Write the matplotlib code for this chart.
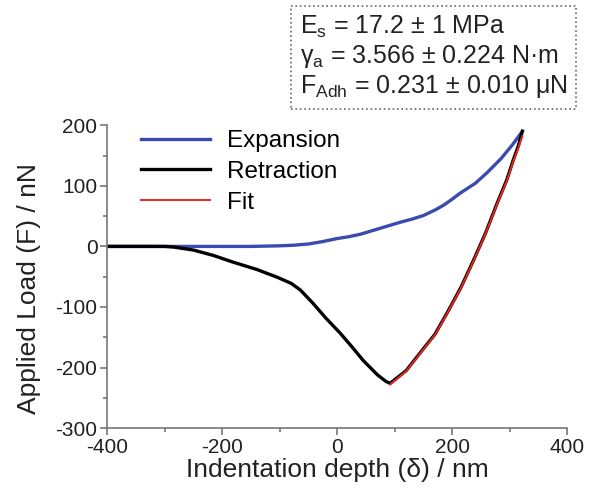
import matplotlib
matplotlib.use("Agg")
import matplotlib.pyplot as plt

plt.rcParams['font.family'] = ['Liberation Sans', 'DejaVu Sans']
plt.rcParams['mathtext.fontset'] = 'custom'
plt.rcParams['mathtext.rm'] = 'Liberation Sans'
plt.rcParams['mathtext.it'] = 'Liberation Sans'
plt.rcParams['axes.unicode_minus'] = False

# expansion (approach) curve
exp_x = [-400, -350, -300, -250, -200, -150, -100, -75, -50, -25, 0, 20, 40, 75, 110, 130, 150,
         170, 185, 200, 214, 240, 261, 285, 305, 322]
exp_y = [0, 0, 0, 0, 0, 0, 1, 2, 4, 8, 13, 16, 20, 30, 40, 45, 51, 60, 68, 78, 88, 104, 122,
         145, 168, 190]

# retraction curve
ret_x = [-400, -350, -300, -285, -250, -215, -181, -140, -104, -80, -64, -42, -20, 5, 25, 45,
         70, 85, 92, 120, 144, 170, 191, 215, 237, 258, 278, 295, 306, 315, 322]
ret_y = [0, 0, 0, -1, -6, -15, -26, -38, -51, -61, -72, -94, -118, -143, -165, -188, -212,
         -223, -226, -205, -176, -145, -110, -68, -23, 22, 71, 110, 142, 166, 190]

# fit on the retraction branch
fit_x = [92, 120, 144, 170, 191, 215, 237, 258, 278, 295, 306, 315, 322]
fit_y = [-228, -206, -177, -146, -111, -69, -24, 21, 70, 108, 140, 162, 182]

fig = plt.figure(figsize=(5.89, 4.95), dpi=100)
ax = fig.add_axes([0.182, 0.135, 0.781, 0.612])

ax.plot(exp_x, exp_y, color='#3a4bb0', lw=2.4, label='Expansion')
ax.plot(ret_x, ret_y, color='black', lw=2.4, label='Retraction')
ax.plot(fit_x, fit_y, color='#e8281e', lw=1.4, label='Fit')

ax.set_xlim(-400, 400)
ax.set_ylim(-300, 200)
ax.set_xticks([-400, -200, 0, 200, 400])
ax.set_xticks([-300, -100, 100, 300], minor=True)
ax.set_yticks([-300, -200, -100, 0, 100, 200])
ax.set_yticks([-250, -150, -50, 50, 150], minor=True)

for s in ['top', 'right']:
    ax.spines[s].set_visible(False)
for s in ['left', 'bottom']:
    ax.spines[s].set_color('#777777')
    ax.spines[s].set_linewidth(1.2)
ax.tick_params(which='both', direction='out', color='#777777', width=1.2)
ax.tick_params(which='major', length=5, labelsize=15, labelcolor='#222222', pad=2)
ax.tick_params(which='minor', length=3)

ax.set_xlabel('Indentation depth (δ) / nm', fontsize=19, color='#222222', labelpad=1)
ax.set_ylabel('Applied Load (F) / nN', fontsize=19, color='#222222', labelpad=3)
ax.yaxis.set_label_coords(-0.143, 0.46)

ax.legend(loc='upper left', bbox_to_anchor=(0.027, 1.055), frameon=False, fontsize=17.5,
          handlelength=2.8, labelspacing=0.35, handletextpad=0.7)

box_text = ('E$_\\mathrm{s}$ = 17.2 ± 1 MPa\n'
            'γ$_\\mathrm{a}$ = 3.566 ± 0.224 N·m\n'
            'F$_\\mathrm{Adh}$ = 0.231 ± 0.010 μN')
fig.text(0.509, 0.972, box_text, ha='left', va='top', fontsize=18, color='#222222',
         linespacing=1.15,
         bbox=dict(boxstyle='square,pad=0.35', facecolor='white', edgecolor='#666666',
                   linestyle=':', linewidth=1.2))

fig.savefig('out.png', dpi=100)
